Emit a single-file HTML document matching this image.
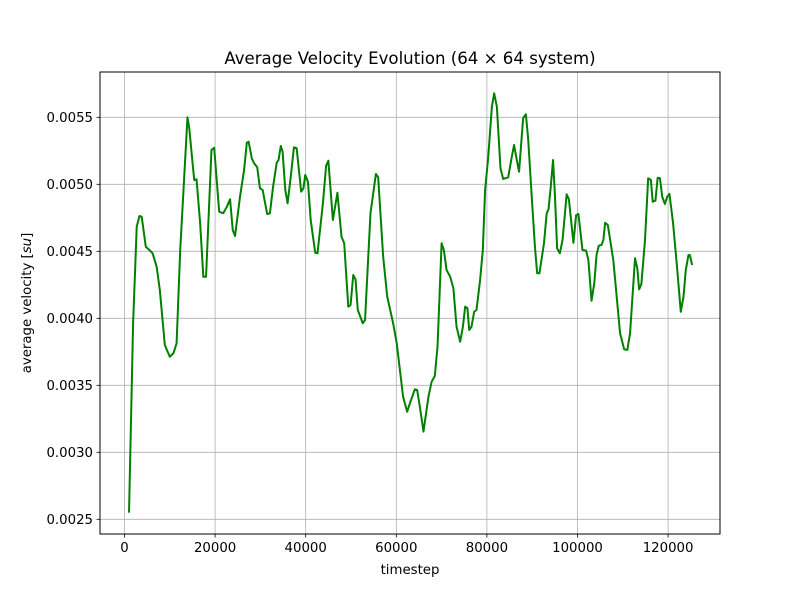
<!DOCTYPE html>
<html><head><meta charset="utf-8"><style>
body{margin:0;background:#fff}
svg{font-family:"DejaVu Sans","Liberation Sans",sans-serif}
</style></head><body>
<svg id="chart" width="800" height="600" xmlns="http://www.w3.org/2000/svg">
<rect x="0" y="0" width="800" height="600" fill="#fff"/>
<g id="grid"></g>
<g id="ticks"></g>
<path id="line" fill="none" stroke="#008000" stroke-width="2" stroke-linejoin="round"/>
<rect x="100" y="72" width="620" height="462" fill="none" stroke="#000" stroke-width="1"/>
<text x="410" y="64" text-anchor="middle" font-size="16.6">Average Velocity Evolution (64 × 64 system)</text>
<text x="410" y="574" text-anchor="middle" font-size="13.3">timestep</text>
<text transform="translate(31,303) rotate(-90)" text-anchor="middle" font-size="13.3">average velocity [<tspan font-style="italic">su</tspan>]</text>
</svg>
<script>
const timesteps=[1000,1900,2700,3300,3800,4700,5500,6200,7100,7800,8900,10000,10800,11500,12300,13900,14300,15100,15400,15900,16700,17400,18000,19200,19800,20900,21800,22600,23300,23900,24400,25500,26400,27000,27400,28100,28600,29300,29900,30500,31500,32100,32800,33600,34000,34500,34900,35500,36000,36700,37400,38000,39000,39500,39900,40500,41100,42100,42600,43800,44500,45000,46000,47000,47900,48500,49400,49900,50500,51000,51500,52600,53100,54300,55500,56000,57100,58000,59300,60100,61500,62400,63000,64100,64600,65200,66000,67100,67800,68500,69100,70000,70500,71100,71900,72600,73300,74100,74700,75200,75700,76100,76600,77200,77700,78500,79100,79600,80300,81100,81600,82200,83000,83600,84700,85500,86000,86600,87100,88000,88600,89100,89900,90600,91100,91600,92600,93200,93600,94100,94600,95000,95500,96100,96700,97600,98100,99100,99700,100200,101100,101900,102400,103100,103700,104200,104700,105300,105700,106100,106700,107900,109400,110300,111000,111600,112700,113200,113600,114100,114900,115600,116200,116600,117200,117700,118200,118700,119300,119800,120300,121100,121900,122800,123400,123900,124500,124800,125300];
const velocities=[0.00255,0.003965,0.004684,0.004763,0.004758,0.004534,0.00451,0.004485,0.004385,0.004211,0.003801,0.003713,0.003739,0.003813,0.00451,0.0055,0.005418,0.005131,0.005032,0.005037,0.004709,0.00431,0.00431,0.005256,0.005273,0.004796,0.004784,0.004833,0.004888,0.004659,0.004614,0.004907,0.005107,0.00531,0.005318,0.005194,0.005157,0.005127,0.00497,0.004957,0.004778,0.004784,0.004982,0.005161,0.005181,0.005286,0.005243,0.004957,0.004858,0.005057,0.005276,0.005269,0.004945,0.00497,0.005069,0.005019,0.004734,0.00449,0.004485,0.004858,0.005137,0.005176,0.004734,0.004937,0.004609,0.00456,0.004087,0.004099,0.004323,0.004291,0.004062,0.003963,0.003987,0.004784,0.005077,0.005052,0.00446,0.004161,0.003963,0.003813,0.003415,0.003303,0.003366,0.00347,0.003465,0.00334,0.003154,0.003415,0.003527,0.003569,0.003788,0.00456,0.00451,0.00436,0.00431,0.004224,0.003937,0.003825,0.003937,0.004087,0.004075,0.003913,0.003937,0.004049,0.004062,0.004286,0.00451,0.004957,0.005206,0.005579,0.005679,0.005579,0.005119,0.00504,0.005052,0.005206,0.005293,0.005181,0.005094,0.005493,0.005522,0.005343,0.004907,0.004534,0.004336,0.004336,0.00456,0.004784,0.004813,0.004982,0.005181,0.004933,0.004522,0.004485,0.004584,0.004925,0.004888,0.004564,0.004771,0.004778,0.00451,0.004505,0.004435,0.004131,0.004261,0.004472,0.004542,0.004547,0.004584,0.004713,0.004696,0.004435,0.003888,0.003769,0.003764,0.003888,0.004448,0.004373,0.004216,0.004256,0.004584,0.005045,0.005032,0.00487,0.004878,0.005049,0.005045,0.004907,0.004853,0.004907,0.004928,0.004709,0.00441,0.004049,0.004161,0.00436,0.004472,0.004472,0.004398];
const xTicks=[0,20000,40000,60000,80000,100000,120000];
const yTicks=[0.0025,0.0030,0.0035,0.0040,0.0045,0.0050,0.0055];
const yTickLabels=["0.0025","0.0030","0.0035","0.0040","0.0045","0.0050","0.0055"];

const NS="http://www.w3.org/2000/svg";
function xs(t){return 124.5+t/20000*90.6;}
function ys(v){return 117.3+(0.0055-v)*134000;}
const grid=document.getElementById('grid'),ticks=document.getElementById('ticks');
function mk(tag,attrs,parent){const e=document.createElementNS(NS,tag);for(const k in attrs)e.setAttribute(k,attrs[k]);parent.appendChild(e);return e;}
xTicks.forEach(t=>{
  const x=xs(t);
  const g=mk('line',{x1:x,x2:x,y1:72,y2:534,stroke:'#b0b0b0','stroke-width':0.8},grid);
  
  
  const tk=mk('line',{x1:x,x2:x,y1:534,y2:537.5,stroke:'#000','stroke-width':0.8},ticks);
  
  
  const tx=mk('text',{x:x,y:552,'text-anchor':'middle','font-size':13.3},ticks);
  tx.textContent=String(t);
  
  
});
yTicks.forEach((v,i)=>{
  const y=ys(v);
  const g=mk('line',{x1:100,x2:720,y1:y,y2:y,stroke:'#b0b0b0','stroke-width':0.8},grid);
  
  
  const tk=mk('line',{x1:96.5,x2:100,y1:y,y2:y,stroke:'#000','stroke-width':0.8},ticks);
  
  
  const tx=mk('text',{x:93,y:y+4.8,'text-anchor':'end','font-size':13.3},ticks);
  tx.textContent=yTickLabels[i];
  
  
});
let d='';
timesteps.forEach((t,i)=>{d+=(i?'L':'M')+xs(t).toFixed(2)+','+ys(velocities[i]).toFixed(2);});
document.getElementById('line').setAttribute('d',d);
</script>
</body></html>
